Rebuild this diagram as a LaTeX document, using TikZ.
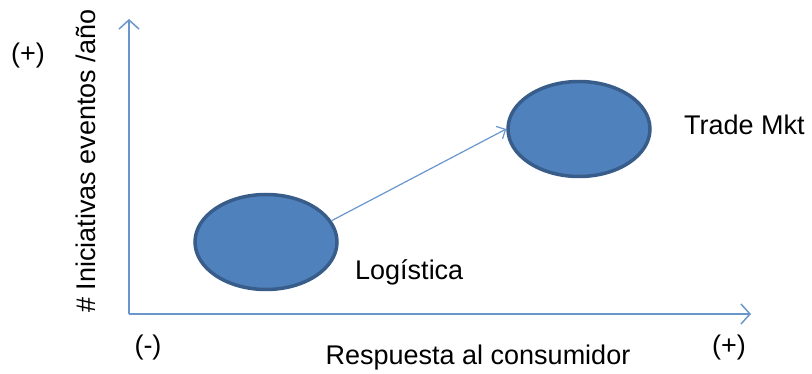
\documentclass[tikz,border=0pt]{standalone}
\usepackage{fontspec}
\setmainfont{Liberation Sans}
\usetikzlibrary{arrows.meta,shapes.geometric}
\definecolor{fillblue}{HTML}{4F81BD}
\definecolor{edgeblue}{HTML}{385D8A}
\definecolor{axisblue}{HTML}{6A96CC}
\begin{document}
\begin{tikzpicture}[x=1pt,y=-1pt,
  blob/.style={ellipse,draw=edgeblue,fill=fillblue,line width=3.5pt,minimum width=142pt,minimum height=95pt,inner sep=0pt},
  axisline/.style={draw=axisblue,line width=1.5pt,-{Straight Barb[length=9pt,width=20pt,line width=1.5pt]}},
  link/.style={draw=axisblue,line width=1.2pt,-{Straight Barb[length=7pt,width=14pt,line width=1.2pt]}},
  lbl/.style={font=\fontsize{27}{32}\selectfont,text=black,inner sep=0pt}]
\useasboundingbox (0,0) rectangle (812,374);
\coordinate (origin) at (129,314);
\coordinate (ytip) at (129,19);
\coordinate (xtip) at (751,314);
\draw[axisline] (origin) -- (ytip);
\draw[axisline] (origin) -- (xtip);
\node[blob] (log) at (266,242) {};
\node[blob] (trade) at (579,129) {};
\draw[link] (log.18) -- (trade.west);
\node[lbl,anchor=west] (tlbl) at (684,125) {Trade Mkt};
\node[lbl,anchor=west] (llbl) at (355,272) {Logística};
\node[lbl] (yplus) at (28,56) {(+)};
\node[lbl] (xminus) at (148,348) {(-)};
\node[lbl] (xplus) at (729,348) {(+)};
\node[lbl] (xlabel) at (478,358) {Respuesta al consumidor};
\node[lbl,rotate=90] (ylabel) at (86,161) {\# Iniciativas eventos /año};
\end{tikzpicture}
\end{document}
